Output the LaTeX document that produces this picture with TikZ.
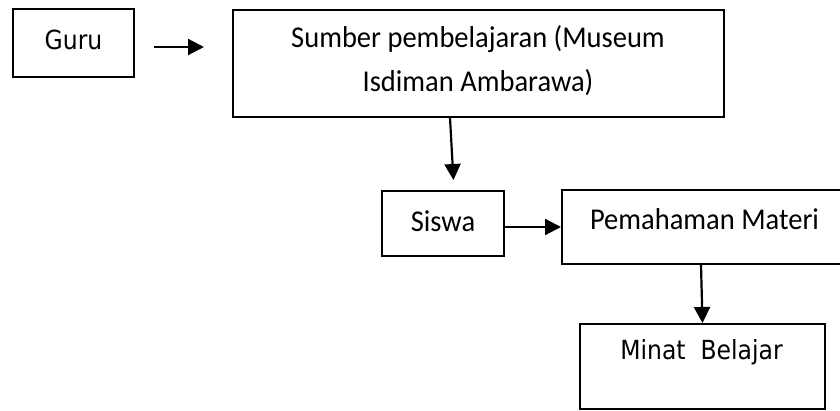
\documentclass[tikz,border=0pt]{standalone}
\usepackage{fontspec}
\setmainfont{Carlito}
\newfontfamily\dejavu{DejaVu Sans}
\usetikzlibrary{arrows.meta}
\newcommand{\tallery}[1]{\scalebox{1}[1.12]{#1}}
\newcommand{\tallerc}[1]{\scalebox{1}[1.06]{#1}}
\begin{document}
\begin{tikzpicture}[x=1pt,y=-1pt,
  box/.style={draw=black, line width=2pt, inner sep=0pt},
  cal/.style={font=\fontsize{28.5}{44}\selectfont, align=center, inner sep=0pt},
  dej/.style={font=\dejavu\fontsize{23.5}{28}\selectfont, inner sep=0pt},
  arr/.style={line width=2.2pt, -{Triangle[length=16pt,width=16pt]}}]
\useasboundingbox[fill=white] (0,0) rectangle (840,410);
% boxes
\node[box, minimum width=121pt, minimum height=68pt] (guru) at (73.5,43) {};
\node[dej] (gurut) at (73.5,40) {\tallery{Guru}};
\node[box, minimum width=491pt, minimum height=107pt] (sumber) at (478.5,63.5) {};
\node[cal] (sumbert) at (478,61) {\tallerc{Sumber pembelajaran (Museum}\\\tallerc{Isdiman Ambarawa)}};
\node[box, minimum width=122pt, minimum height=65pt] (siswa) at (443,223.5) {};
\node[cal] (siswat) at (443,221) {\tallerc{Siswa}};
\node[box, minimum width=288pt, minimum height=74pt] (pem) at (706,227) {};
\node[cal] (pemt) at (704.5,219) {\tallerc{Pemahaman Materi}};
\node[box, minimum width=245pt, minimum height=85pt] (minat) at (702.5,366.5) {};
\node[dej] (minatt) at (701.5,352) {\tallery{Minat\ \ Belajar}};
% arrows
\draw[arr, shorten <=19pt, shorten >=28pt] ([yshift=-4pt]guru.east) -- ([yshift=-4pt]guru.east -| sumber.west);
\draw[arr, shorten >=10pt] ([xshift=-28.5pt]sumber.south) -- ([xshift=11pt]siswa.north);
\draw[arr] ([yshift=-3.5pt]siswa.east) -- ([yshift=-3.5pt]siswa.east -| pem.west);
\draw[arr] ([xshift=-5pt]pem.south) -- (minat.north);
\end{tikzpicture}
\end{document}
